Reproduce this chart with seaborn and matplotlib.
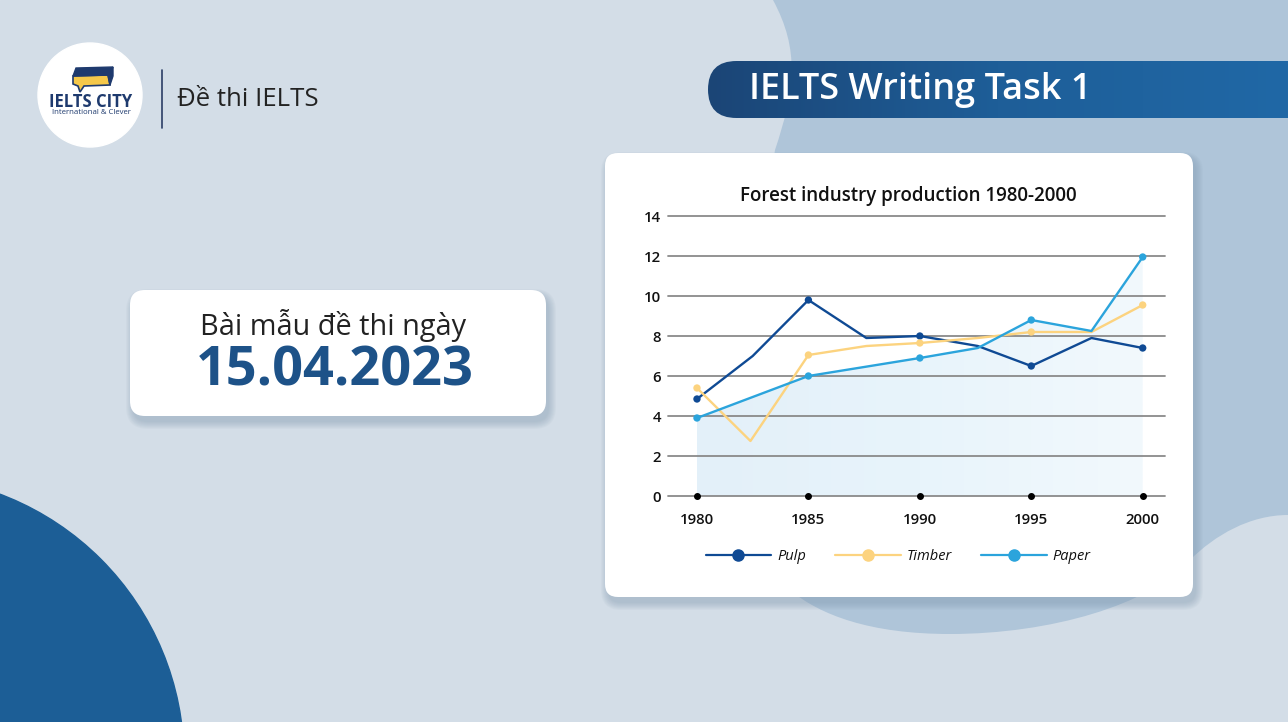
import numpy as np
import pandas as pd
import matplotlib
matplotlib.use("Agg")
import matplotlib.pyplot as plt
import seaborn as sns
from matplotlib.patches import FancyBboxPatch, Circle, Polygon, Rectangle, PathPatch
from matplotlib.path import Path
from matplotlib.lines import Line2D
from matplotlib.colors import LinearSegmentedColormap

sns.set_theme(style="white")
plt.rcParams["font.family"] = ["Open Sans", "DejaVu Sans"]

# ---------------- data ----------------
main_years = [1980, 1985, 1990, 1995, 2000]
year_ticks = ["1980", "1985", "1990", "1995", "2000"]
y_ticks = [0, 2, 4, 6, 8, 10, 12, 14]

pulp_years = [1980, 1982.5, 1985, 1987.6, 1990, 1992.6, 1995, 1997.7, 2000]
pulp_values = [4.85, 7.0, 9.8, 7.9, 8.0, 7.5, 6.5, 7.9, 7.4]

timber_years = [1980, 1982.4, 1985, 1987.6, 1990, 1992.6, 1995, 1997.7, 2000]
timber_values = [5.4, 2.75, 7.05, 7.5, 7.65, 7.9, 8.2, 8.2, 9.55]

paper_years = [1980, 1985, 1990, 1992.6, 1995, 1997.7, 2000]
paper_values = [3.9, 6.0, 6.9, 7.4, 8.8, 8.25, 11.95]

series_names = ["Pulp", "Timber", "Paper"]
series_colors = {"Pulp": "#0f4a94", "Timber": "#fcd37f", "Paper": "#2ba4dc"}

frames = []
for name, yrs, vals in [("Pulp", pulp_years, pulp_values),
                        ("Timber", timber_years, timber_values),
                        ("Paper", paper_years, paper_values)]:
    frames.append(pd.DataFrame({"year": yrs, "value": vals, "series": name}))
df = pd.concat(frames, ignore_index=True)
df_marks = df[df["year"].isin(main_years)]

# ---------------- figure & background ----------------
W, H = 1288, 722
fig = plt.figure(figsize=(W / 100, H / 100), dpi=100)
bg = fig.add_axes([0, 0, 1, 1])
bg.set_xlim(0, W)
bg.set_ylim(H, 0)
bg.axis("off")

bg.add_patch(Rectangle((0, 0), W, H, color="#d3dde7", zorder=0))

# bluish blob on the right
verts = [(773, 0), (1288, 0), (1288, 515),
         (1250, 515), (1215, 535), (1190, 560),
         (1150, 605), (1050, 634), (950, 634),
         (870, 634), (820, 615), (790, 590),
         (740, 450), (760, 250), (775, 150),
         (795, 90), (800, 50), (773, 0)]
codes = [Path.MOVETO, Path.LINETO, Path.LINETO,
         Path.CURVE4, Path.CURVE4, Path.CURVE4,
         Path.CURVE4, Path.CURVE4, Path.CURVE4,
         Path.CURVE4, Path.CURVE4, Path.CURVE4,
         Path.CURVE4, Path.CURVE4, Path.CURVE4,
         Path.CURVE4, Path.CURVE4, Path.CURVE4]
bg.add_patch(PathPatch(Path(verts, codes), facecolor="#afc5d9", edgecolor="none", zorder=1))

# dark blue quarter circle bottom-left
bg.add_patch(Circle((-100, 760), 284, color="#1c5e96", zorder=1))


def card(x, y, w, h, r, z):
    for i in range(8):
        bg.add_patch(FancyBboxPatch((x + 3 - i * 1.0, y + 6 - i * 1.0), w + i * 2.0, h + i * 2.0,
                                    boxstyle=f"round,pad=0,rounding_size={r + i}",
                                    facecolor="#7f97ae", edgecolor="none", alpha=0.06, zorder=z))
    bg.add_patch(FancyBboxPatch((x, y), w, h, boxstyle=f"round,pad=0,rounding_size={r}",
                                facecolor="white", edgecolor="none", zorder=z + 0.5))


card(605, 153, 588, 444, 13, 2)
card(130, 290, 416, 126, 15, 2)

# banner
banner = FancyBboxPatch((708, 61), 700, 57, boxstyle="round,pad=0,rounding_size=28.5",
                        facecolor="none", edgecolor="none", zorder=3)
bg.add_patch(banner)
grad = np.linspace(0, 1, 256).reshape(1, -1)
cmap_b = LinearSegmentedColormap.from_list("b", ["#1b4576", "#1e5e98", "#2068a6"])
im = bg.imshow(grad, extent=[708, 1288, 118, 61], cmap=cmap_b, aspect="auto", zorder=3)
im.set_clip_path(banner)
bg.text(749, 90, "IELTS Writing Task 1", color="white", fontsize=26, fontweight="semibold",
        ha="left", va="center", zorder=4)

# logo
bg.add_patch(Circle((90, 95), 52, color="white", zorder=3))
bg.add_patch(Polygon([(73, 76), (108, 75), (110, 85), (84, 86), (80, 92), (78, 86), (73, 84)],
                     closed=True, facecolor="#f5c84a", edgecolor="#1e3a6e", lw=1.2, zorder=4))
bg.add_patch(Polygon([(76, 68), (113, 67), (110, 75), (73, 76)], closed=True,
                     facecolor="#1e3a6e", edgecolor="#1e3a6e", lw=1, zorder=4))
bg.add_patch(Polygon([(108, 75), (113, 67), (113, 76), (110, 85)], closed=True,
                     facecolor="#1e3a6e", edgecolor="#1e3a6e", lw=1, zorder=4))
bg.text(91, 102, "IELTS CITY", color="#1e3a6e", fontsize=12, fontweight="bold",
        ha="center", va="center", zorder=4)
bg.text(91, 113, "International & Clever", color="#1e3a6e", fontsize=5.6,
        ha="center", va="center", zorder=4)
bg.plot([162, 162], [70, 128], color="#2c3e66", lw=1.2, zorder=4)
bg.text(177, 100, "Đề thi IELTS", color="#222222", fontsize=18.5, ha="left", va="center", zorder=4)

# date card texts
bg.text(333, 326, "Bài mẫu đề thi ngày", color="#222222", fontsize=20.8,
        ha="center", va="center", zorder=4)
bg.text(335, 371, "15.04.2023", color="#1d5288", fontsize=39, fontweight="bold",
        ha="center", va="center", zorder=4)

# chart title
bg.text(908, 196, "Forest industry production 1980-2000", color="#111111", fontsize=13.5,
        fontweight="semibold", ha="center", va="center", zorder=4)

# ---------------- chart ----------------
ax = fig.add_axes([668 / W, 1 - 496 / H, 497 / W, 280 / H])
ax.patch.set_alpha(0)
ax.set_zorder(5)

# gradient fill under paper
fill_verts = list(zip(paper_years, paper_values)) + [(2000, 0), (1980, 0)]
fill_patch = Polygon(fill_verts, closed=True, facecolor="none", edgecolor="none",
                     transform=ax.transData)
ax.add_patch(fill_patch)
cmap_f = LinearSegmentedColormap.from_list("f", ["#e3f0f9", "#e8f4fb", "#f2f9fd"])
img = ax.imshow(np.linspace(0, 1, 256).reshape(1, -1), extent=[1980, 2000, 0, 14],
                cmap=cmap_f, aspect="auto", zorder=0.5)
img.set_clip_path(fill_patch)

sns.lineplot(data=df, x="year", y="value", hue="series", hue_order=series_names,
             palette=series_colors, estimator=None, sort=False, linewidth=1.7,
             legend=False, ax=ax)
for ln in ax.lines:
    ln.set_solid_joinstyle("round")
    ln.set_zorder(3)
sns.scatterplot(data=df_marks, x="year", y="value", hue="series", hue_order=series_names,
                palette=series_colors, s=28, edgecolor="none", legend=False, ax=ax, zorder=4)
dots = ax.scatter(main_years, [0] * len(main_years), s=16, color="black", zorder=4)
dots.set_clip_on(False)

ax.set_xlim(1978.7, 2001.0)
ax.set_ylim(0, 14)
ax.set_yticks(y_ticks)
ax.set_xticks(main_years)
ax.set_xticklabels(year_ticks)
ax.set_axisbelow("line")
ax.yaxis.grid(True, color="#8a8a8a", linewidth=1.3)
ax.xaxis.grid(False)
for gl in ax.get_ygridlines():
    gl.set_clip_on(False)
for s in ax.spines.values():
    s.set_visible(False)
ax.tick_params(axis="both", length=0, labelsize=10.8, labelcolor="#111111")
ax.tick_params(axis="y", pad=5)
ax.tick_params(axis="x", pad=12)
for lab in ax.get_xticklabels() + ax.get_yticklabels():
    lab.set_fontweight("semibold")
ax.set_xlabel("")
ax.set_ylabel("")

handles = [Line2D([0], [0], color=series_colors[n], lw=1.6, marker="o", markersize=8)
           for n in series_names]
leg = fig.legend(handles, series_names, loc="center", bbox_to_anchor=(898 / W, 1 - 557 / H),
                 ncol=3, frameon=False, handlelength=4.5, columnspacing=2.0,
                 handletextpad=0.4, prop={"style": "italic", "size": 10.5})
for t in leg.get_texts():
    t.set_color("#111111")

fig.savefig("out.png", dpi=100)
